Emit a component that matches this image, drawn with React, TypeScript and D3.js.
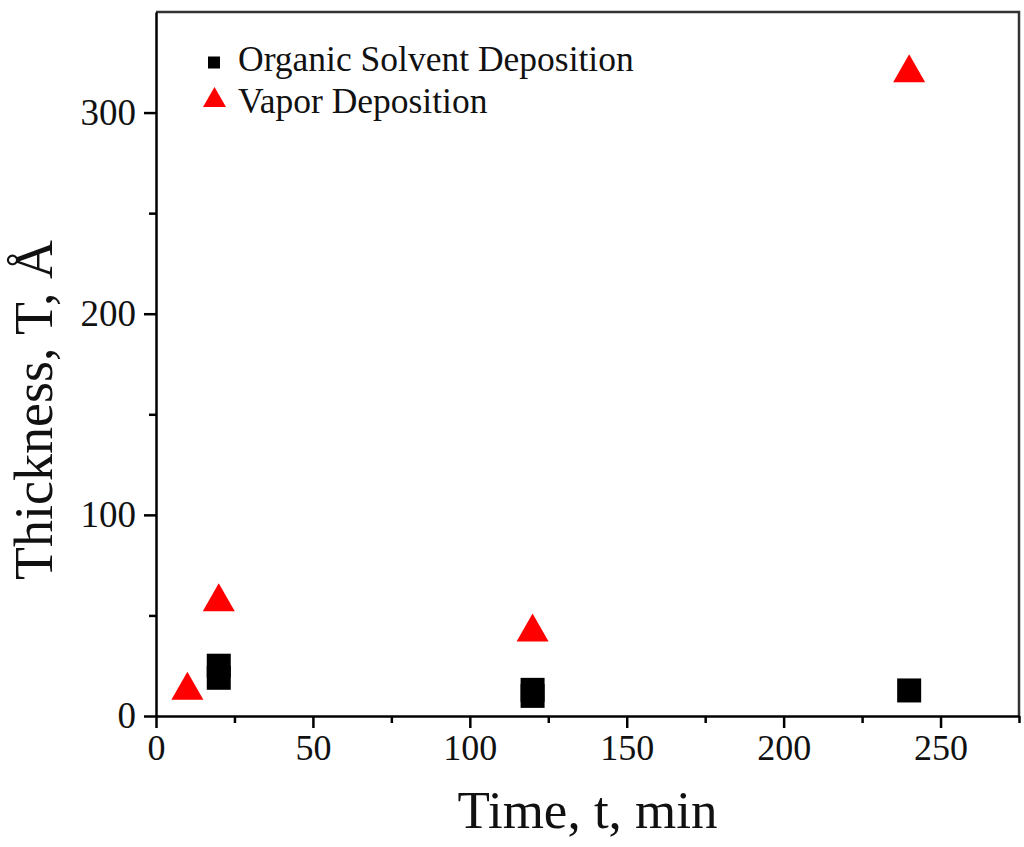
import React, { useEffect, useRef } from 'react';
import * as d3 from 'd3';

// Organic solvent deposition (black squares)
const organicTime = [20, 20, 120, 120, 240];
const organicThickness = [25, 19, 13, 10, 12.7];

// Vapor deposition (red triangles)
const vaporTime = [10, 20, 120, 240];
const vaporThickness = [15, 59, 44, 322];

const xMajorTicks = [0, 50, 100, 150, 200, 250];
const xMinorTicks = [25, 75, 125, 175, 225, 275];
const yMajorTicks = [0, 100, 200, 300];
const yMinorTicks = [50, 150, 250];

const legendLabels = ['Organic Solvent Deposition', 'Vapor Deposition'];

const WIDTH = 1024;
const HEIGHT = 847;
const FONT = '"Liberation Serif", "Times New Roman", serif';

const App: React.FC = () => {
  const svgRef = useRef<SVGSVGElement>(null);

  useEffect(() => {
    document.body.style.margin = '0';
    const svg = d3.select(svgRef.current);
    svg.selectAll('*').remove();

    const margin = { left: 156, right: 1019, top: 12, bottom: 716 };

    const x = d3.scaleLinear().domain([0, 275]).range([margin.left, margin.right]);
    const y = d3.scaleLinear().domain([0, 350]).range([margin.bottom, margin.top]);

    // frame (top and right)
    svg.append('path')
      .attr('d', `M${margin.left},${margin.top}H${margin.right}V${margin.bottom}`)
      .attr('fill', 'none')
      .attr('stroke', '#333')
      .attr('stroke-width', 2.5);

    // x axis
    const xAxis = svg.append('g')
      .attr('transform', `translate(0,${margin.bottom})`)
      .call(d3.axisBottom(x).tickValues(xMajorTicks).tickSize(12).tickSizeOuter(0).tickPadding(6));
    xAxis.select('.domain').attr('stroke', '#000').attr('stroke-width', 2.5);
    xAxis.selectAll('.tick line').attr('stroke', '#000').attr('stroke-width', 2.5);
    xAxis.selectAll('.tick text')
      .attr('font-family', FONT)
      .attr('font-size', 36)
      .attr('fill', '#111');
    svg.append('g')
      .attr('transform', `translate(0,${margin.bottom})`)
      .call(d3.axisBottom(x).tickValues(xMinorTicks).tickSize(7).tickFormat(() => ''))
      .call(g => g.select('.domain').remove())
      .call(g => g.selectAll('.tick line').attr('stroke', '#000').attr('stroke-width', 2.5));

    // y axis
    const yAxis = svg.append('g')
      .attr('transform', `translate(${margin.left},0)`)
      .call(d3.axisLeft(y).tickValues(yMajorTicks).tickSize(12).tickSizeOuter(0).tickPadding(8));
    yAxis.select('.domain').attr('stroke', '#000').attr('stroke-width', 2.5);
    yAxis.selectAll('.tick line').attr('stroke', '#000').attr('stroke-width', 2.5);
    yAxis.selectAll<SVGTextElement, number>('.tick text')
      .attr('font-family', FONT)
      .attr('font-size', 37)
      .attr('fill', '#111');
    svg.append('g')
      .attr('transform', `translate(${margin.left},0)`)
      .call(d3.axisLeft(y).tickValues(yMinorTicks).tickSize(7).tickFormat(() => ''))
      .call(g => g.select('.domain').remove())
      .call(g => g.selectAll('.tick line').attr('stroke', '#000').attr('stroke-width', 2.5));

    // axis titles
    svg.append('text')
      .attr('x', (margin.left + margin.right) / 2)
      .attr('y', 828)
      .attr('text-anchor', 'middle')
      .attr('font-family', FONT)
      .attr('font-size', 53)
      .attr('fill', '#111')
      .text('Time, t, min');

    svg.append('text')
      .attr('transform', `translate(52,410) rotate(-90)`)
      .attr('text-anchor', 'middle')
      .attr('font-family', FONT)
      .attr('font-size', 54)
      .attr('fill', '#111')
      .text('Thickness, T, Å');

    const sq = 24;
    const triPath = (cx: number, cy: number, w: number, h: number) =>
      `M${cx},${cy - h / 2}L${cx + w / 2},${cy + h / 2}L${cx - w / 2},${cy + h / 2}Z`;

    // squares
    svg.append('g')
      .selectAll('rect')
      .data(organicTime.map((t, i) => [t, organicThickness[i]]))
      .enter()
      .append('rect')
      .attr('x', d => x(d[0]) - sq / 2)
      .attr('y', d => y(d[1]) - sq / 2)
      .attr('width', sq)
      .attr('height', sq)
      .attr('fill', '#000');

    // triangles
    svg.append('g')
      .selectAll('path')
      .data(vaporTime.map((t, i) => [t, vaporThickness[i]]))
      .enter()
      .append('path')
      .attr('d', d => triPath(x(d[0]), y(d[1]), 32, 28))
      .attr('fill', '#ff0000');

    // legend
    const legend = svg.append('g');
    legend.append('rect')
      .attr('x', 208).attr('y', 56.5).attr('width', 12).attr('height', 12)
      .attr('fill', '#000');
    legend.append('path')
      .attr('d', triPath(214.5, 97, 23, 20))
      .attr('fill', '#ff0000');
    legend.selectAll('text')
      .data(legendLabels)
      .enter()
      .append('text')
      .attr('x', 238)
      .attr('y', (_, i) => 71 + i * 42)
      .attr('font-family', FONT)
      .attr('font-size', 35.5)
      .attr('fill', '#111')
      .text(d => d);
  }, []);

  return <svg ref={svgRef} width={WIDTH} height={HEIGHT} style={{ display: 'block', background: '#fff' }} />;
};

export default App;
